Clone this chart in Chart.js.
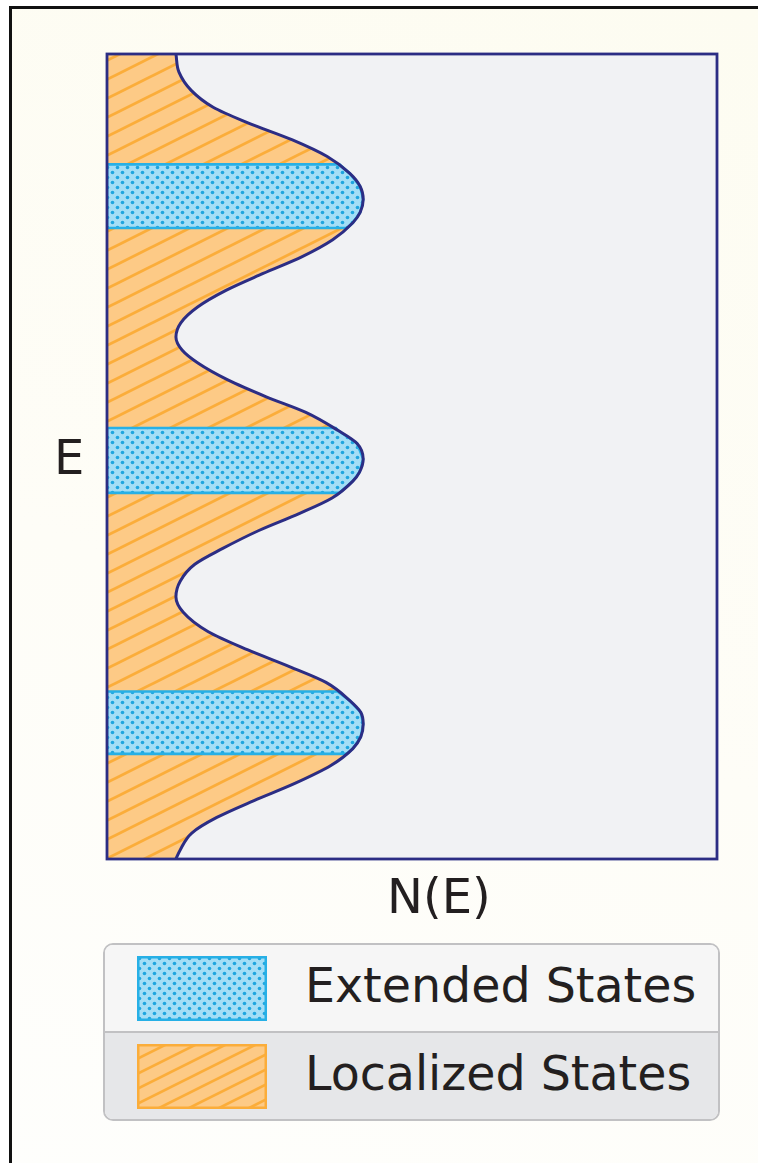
<!DOCTYPE html>
<html lang="en">
<head>
<meta charset="utf-8">
<title>Density of states: extended and localized states</title>
<script src="https://cdn.jsdelivr.net/npm/chart.js@4.4.1/dist/chart.umd.min.js"></script>
<style>
  html, body { margin: 0; padding: 0; }
  body {
    width: 758px;
    height: 1163px;
    position: relative;
    overflow: hidden;
    background: #ffffff;
    font-family: "DejaVu Sans", Verdana, sans-serif;
    color: #231f20;
  }
  .frame {
    position: absolute;
    left: 9px;
    top: 6px;
    right: -10px;
    bottom: -10px;
    border-top: 3px solid #111;
    border-left: 3px solid #111;
    background: linear-gradient(200deg, #fdfcf1 0%, #fefdf7 55%, #fefefc 100%);
  }
  .chart-wrap {
    position: absolute;
    left: 0;
    top: 0;
    width: 758px;
    height: 880px;
  }
  .axis-label {
    position: absolute;
    font-size: 48px;
    line-height: 48px;
    white-space: nowrap;
  }
  #yLabel { left: 54px; top: 433px; }
  #xLabel { left: 387px; top: 872px; }
  .legend {
    position: absolute;
    left: 103px;
    top: 943px;
    width: 617px;
    height: 178px;
    box-sizing: border-box;
    border: 2px solid #c1c1c3;
    border-radius: 10px;
    overflow: hidden;
  }
  .legend-row {
    height: 86px;
    display: flex;
    align-items: center;
    padding-left: 32px;
  }
  .legend-row + .legend-row { border-top: 2px solid #c1c1c3; }
  .legend-row:nth-child(1) { background: #f6f6f6; }
  .legend-row:nth-child(2) { background: #e6e7e9; }
  .legend-row canvas { display: block; width: 130px; height: 65px; }
  .legend-row span {
    margin-left: 38px;
    font-size: 47.5px;
    line-height: 48px;
    position: relative;
    top: -2px;
    white-space: nowrap;
  }
</style>
</head>
<body>
<div class="frame"></div>
<div class="chart-wrap"><canvas id="dos"></canvas></div>
<div class="axis-label" id="yLabel">E</div>
<div class="axis-label" id="xLabel">N(E)</div>
<div class="legend" id="legend"></div>

<script>
// energy (vertical axis) and density of states N(E), bottom to top
const energy = [
  -3.10, -3.03, -2.90, -2.78, -2.65, -2.52, -2.38, -2.25, -2.16, -2.06,
  -1.97, -1.88, -1.74, -1.62, -1.49, -1.35, -1.20, -1.08, -0.96, -0.83,
  -0.71, -0.57, -0.44, -0.32, -0.19, -0.12, -0.02, 0.10, 0.20, 0.34,
  0.46, 0.59, 0.72, 0.82, 0.92, 1.03, 1.15, 1.28, 1.41, 1.54,
  1.67, 1.80, 1.88, 1.98, 2.08, 2.18, 2.31, 2.44, 2.57, 2.69,
  2.82, 2.96, 3.10,
];
const density = [
  0.113, 0.120, 0.139, 0.180, 0.241, 0.307, 0.367, 0.403, 0.416, 0.420,
  0.416, 0.398, 0.359, 0.300, 0.231, 0.166, 0.125, 0.113, 0.120, 0.144,
  0.189, 0.249, 0.315, 0.369, 0.403, 0.414, 0.420, 0.410, 0.379, 0.326,
  0.261, 0.198, 0.149, 0.123, 0.113, 0.121, 0.148, 0.195, 0.256, 0.320,
  0.370, 0.403, 0.415, 0.420, 0.415, 0.398, 0.361, 0.303, 0.231, 0.174,
  0.138, 0.118, 0.113,
];

// extended-state bands: energy limits and where each edge meets the curve
const bandLow = [-2.29, -0.28, 1.76];
const bandHigh = [-1.81, 0.22, 2.25];
const bandLowDensity = [0.393, 0.381, 0.394];
const bandHighDensity = [0.378, 0.375, 0.381];

const legendLabels = ["Extended States", "Localized States"];

const navy = "#2c2d84";
const cyan = "#27b0e6";
const orangeLine = "#fbad3a";

function dotPattern(ctx) {
  const tile = document.createElement("canvas");
  tile.width = 10;
  tile.height = 10;
  const t = tile.getContext("2d");
  t.fillStyle = "#a4def6";
  t.fillRect(0, 0, 10, 10);
  t.fillStyle = "#1fa5df";
  [[2.5, 2.5], [7.5, 7.5]].forEach(([x, y]) => {
    t.beginPath();
    t.arc(x, y, 1.8, 0, Math.PI * 2);
    t.fill();
  });
  return ctx.createPattern(tile, "repeat");
}

// diagonal stripes rising to the right, slope 1:2, "gap" px apart vertically
function hatchPattern(ctx, gap, width) {
  const tile = document.createElement("canvas");
  tile.width = gap * 2;
  tile.height = gap;
  const t = tile.getContext("2d");
  t.fillStyle = "#fdca86";
  t.fillRect(0, 0, gap * 2, gap);
  t.strokeStyle = orangeLine;
  t.lineWidth = width;
  [-1, 0, 1].forEach((n) => {
    t.beginPath();
    t.moveTo(-gap * 2, gap * (n + 2));
    t.lineTo(gap * 4, gap * (n - 1));
    t.stroke();
  });
  return ctx.createPattern(tile, "repeat");
}

function curvePoints() {
  return energy.map((e, i) => ({ x: density[i], y: e }));
}

function bandOutline(i) {
  const lo = bandLow[i];
  const hi = bandHigh[i];
  const inner = curvePoints().filter((p) => p.y > lo && p.y < hi);
  return [
    { x: 0, y: lo },
    { x: bandLowDensity[i], y: lo },
    ...inner,
    { x: bandHighDensity[i], y: hi },
    { x: 0, y: hi },
    { x: 0, y: lo },
  ];
}

const plotFrame = {
  id: "plotFrame",
  beforeDatasetsDraw(chart) {
    const { ctx, chartArea: a } = chart;
    ctx.save();
    ctx.fillStyle = "#f1f2f4";
    ctx.fillRect(a.left, a.top, a.width, a.height);
    ctx.restore();
  },
  afterDatasetsDraw(chart) {
    const { ctx, chartArea: a } = chart;
    ctx.save();
    ctx.strokeStyle = navy;
    ctx.lineWidth = 2.8;
    ctx.strokeRect(a.left, a.top, a.width, a.height);
    ctx.restore();
  },
};

const canvas = document.getElementById("dos");
const ctx = canvas.getContext("2d");

const bandDatasets = bandLow.map((_, i) => ({
  label: "Extended States",
  data: bandOutline(i),
  backgroundColor: dotPattern(ctx),
  borderColor: cyan,
  borderWidth: 2.6,
  borderJoinStyle: "miter",
  fill: "shape",
  tension: 0,
  pointRadius: 0,
  order: 1,
}));

const chart = new Chart(ctx, {
  type: "line",
  data: {
    datasets: [
      {
        label: "N(E)",
        data: curvePoints(),
        borderColor: navy,
        borderWidth: 3,
        fill: false,
        cubicInterpolationMode: "monotone",
        pointRadius: 0,
        order: 0,
      },
      ...bandDatasets,
      {
        label: "Localized States",
        data: curvePoints(),
        backgroundColor: hatchPattern(ctx, 19, 2.8),
        borderWidth: 0,
        fill: "origin",
        cubicInterpolationMode: "monotone",
        pointRadius: 0,
        order: 2,
      },
    ],
  },
  options: {
    indexAxis: "y",
    responsive: true,
    maintainAspectRatio: false,
    animation: false,
    events: [],
    layout: { padding: { left: 107, top: 54, right: 41, bottom: 21 } },
    scales: {
      x: { type: "linear", min: 0, max: 1, display: false },
      y: { type: "linear", min: -3.1, max: 3.1, display: false },
    },
    plugins: {
      legend: { display: false },
      tooltip: { enabled: false },
    },
  },
  plugins: [plotFrame],
});

function buildLegend() {
  const box = document.getElementById("legend");
  legendLabels.forEach((label) => {
    const row = document.createElement("div");
    row.className = "legend-row";
    const swatch = document.createElement("canvas");
    swatch.width = 130;
    swatch.height = 65;
    const c = swatch.getContext("2d");
    const extended = label === "Extended States";
    c.fillStyle = extended ? dotPattern(c) : hatchPattern(c, 15, 2.6);
    c.fillRect(0, 0, 130, 65);
    c.strokeStyle = extended ? cyan : orangeLine;
    c.lineWidth = 2.5;
    c.strokeRect(1.25, 1.25, 127.5, 62.5);
    const text = document.createElement("span");
    text.textContent = label;
    row.appendChild(swatch);
    row.appendChild(text);
    box.appendChild(row);
  });
}

buildLegend();
</script>
</body>
</html>
